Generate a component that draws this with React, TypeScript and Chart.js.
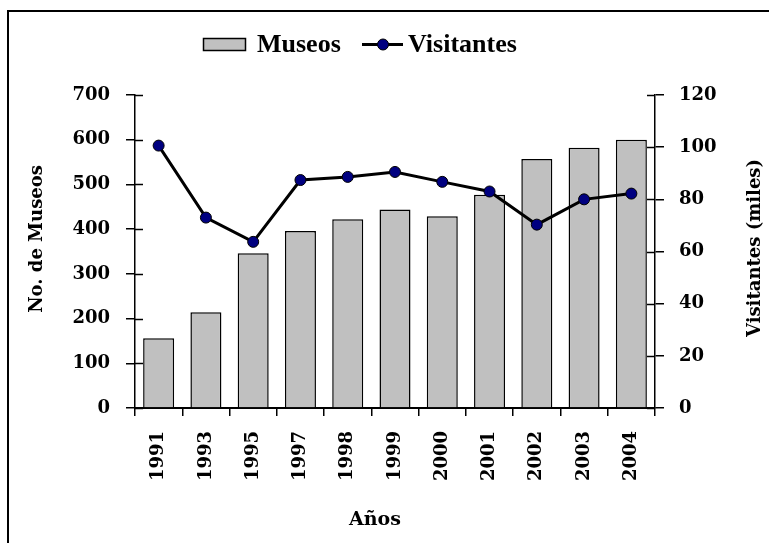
import React, { useEffect, useRef } from "react";
import { Chart, registerables } from "chart.js";

Chart.register(...registerables);

const years = ["1991", "1993", "1995", "1997", "1998", "1999", "2000", "2001", "2002", "2003", "2004"];
const museos = [156, 214, 346, 396, 422, 444, 429, 477, 557, 582, 600];
const visitantes = [100.6, 73, 63.7, 87.4, 88.6, 90.5, 86.7, 83, 70.3, 80, 82.2];
const leftAxis = { min: 0, max: 700, step: 100 };
const rightAxis = { min: 0, max: 120, step: 20 };
const leftTitle = "No. de Museos";
const rightTitle = "Visitantes (miles)";
const bottomTitle = "Años";

export default function App() {
  const ref = useRef<HTMLCanvasElement>(null);

  useEffect(() => {
    const canvas = ref.current!;
    const tickFont = { family: "'DejaVu Serif', serif", size: 18, weight: "bold" as const };

    const framePlugin = {
      id: "frame",
      afterDraw(chart: any) {
        const ctx = chart.ctx as CanvasRenderingContext2D;
        const area = chart.chartArea;
        ctx.save();
        // outer frame
        ctx.fillStyle = "#000";
        ctx.fillRect(7, 10, 2, 543);
        ctx.fillRect(7, 10, 769, 2);

        // inner halves of the tick marks
        ctx.strokeStyle = "#000";
        ctx.lineWidth = 1.5;
        const ys = chart.scales.y;
        ys.ticks.forEach((t: any) => {
          const p = Math.round(ys.getPixelForValue(t.value)) + 0.5;
          ctx.beginPath();
          ctx.moveTo(area.left, p);
          ctx.lineTo(area.left + 8, p);
          ctx.stroke();
        });
        const ys1 = chart.scales.y1;
        ys1.ticks.forEach((t: any) => {
          const p = Math.round(ys1.getPixelForValue(t.value)) + 0.5;
          ctx.beginPath();
          ctx.moveTo(area.right - 8, p);
          ctx.lineTo(area.right, p);
          ctx.stroke();
        });

        // axis titles
        ctx.fillStyle = "#000";
        ctx.font = "bold 18px 'DejaVu Serif', serif";
        ctx.textAlign = "center";
        ctx.textBaseline = "middle";
        ctx.save();
        ctx.translate(37, 239);
        ctx.rotate(-Math.PI / 2);
        ctx.fillText(leftTitle, 0, 0);
        ctx.restore();
        ctx.save();
        ctx.translate(755, 248);
        ctx.rotate(-Math.PI / 2);
        ctx.fillText(rightTitle, 0, 0);
        ctx.restore();
        ctx.font = "bold 19px 'DejaVu Serif', serif";
        ctx.fillText(bottomTitle, 375, 520);

        // legend
        const ds = chart.data.datasets;
        ctx.fillStyle = "#C0C0C0";
        ctx.fillRect(203.5, 38.5, 42, 12);
        ctx.strokeStyle = "#000";
        ctx.lineWidth = 1.5;
        ctx.strokeRect(203.5, 38.5, 42, 12);
        ctx.fillStyle = "#000";
        ctx.font = "bold 26px 'Liberation Serif', serif";
        ctx.textAlign = "left";
        ctx.textBaseline = "alphabetic";
        ctx.fillText(ds[0].label, 257, 52);
        ctx.beginPath();
        ctx.lineWidth = 3;
        ctx.moveTo(362, 44.5);
        ctx.lineTo(403, 44.5);
        ctx.stroke();
        ctx.beginPath();
        ctx.arc(383, 44.5, 5.5, 0, Math.PI * 2);
        ctx.fillStyle = "#000080";
        ctx.fill();
        ctx.lineWidth = 1;
        ctx.stroke();
        ctx.fillStyle = "#000";
        ctx.fillText(ds[1].label, 408, 52);
        ctx.restore();
      },
    };

    const chart = new Chart(canvas, {
      type: "bar",
      data: {
        labels: years,
        datasets: [
          {
            type: "bar",
            label: "Museos",
            data: museos,
            backgroundColor: "#C0C0C0",
            borderColor: "#000",
            borderWidth: 1.5,
            barPercentage: 0.656,
            categoryPercentage: 1,
            yAxisID: "y",
            order: 1,
          },
          {
            type: "line",
            label: "Visitantes",
            data: visitantes,
            borderColor: "#000",
            borderWidth: 3,
            pointRadius: 5.5,
            pointBackgroundColor: "#000080",
            pointBorderColor: "#000",
            pointBorderWidth: 1,
            tension: 0,
            yAxisID: "y1",
            order: 0,
          },
        ],
      } as any,
      options: {
        responsive: false,
        animation: false,
        layout: { padding: { top: 95, left: 0, right: 0, bottom: 0 } },
        plugins: { legend: { display: false }, tooltip: { enabled: false } },
        scales: {
          x: {
            grid: { display: true, drawOnChartArea: false, drawTicks: true, tickLength: 8, color: "#000", lineWidth: 1.5, offset: true },
            border: { display: true, color: "#000", width: 2 },
            ticks: { minRotation: 90, maxRotation: 90, padding: 15, color: "#000", font: tickFont, autoSkip: false },
            afterFit: (s: any) => { s.height = 135; },
          },
          y: {
            position: "left",
            min: leftAxis.min,
            max: leftAxis.max,
            ticks: { stepSize: leftAxis.step, padding: 16, color: "#000", font: tickFont },
            grid: { drawOnChartArea: false, tickLength: 9, color: "#000", lineWidth: 1.5 },
            border: { display: true, color: "#000", width: 1.5 },
            afterFit: (s: any) => { s.width = 135; },
          },
          y1: {
            position: "right",
            min: rightAxis.min,
            max: rightAxis.max,
            ticks: { stepSize: rightAxis.step, padding: 15, color: "#000", font: tickFont },
            grid: { drawOnChartArea: false, tickLength: 9, color: "#000", lineWidth: 1.5 },
            border: { display: true, color: "#000", width: 1.5 },
            afterFit: (s: any) => { s.width = 114; },
          },
        },
      } as any,
      plugins: [framePlugin],
    });
    return () => chart.destroy();
  }, []);

  return (
    <div style={{ position: "absolute", left: 0, top: 0, width: 769, height: 543, background: "#fff" }}>
      <canvas ref={ref} width={769} height={543} style={{ display: "block" }} />
    </div>
  );
}
